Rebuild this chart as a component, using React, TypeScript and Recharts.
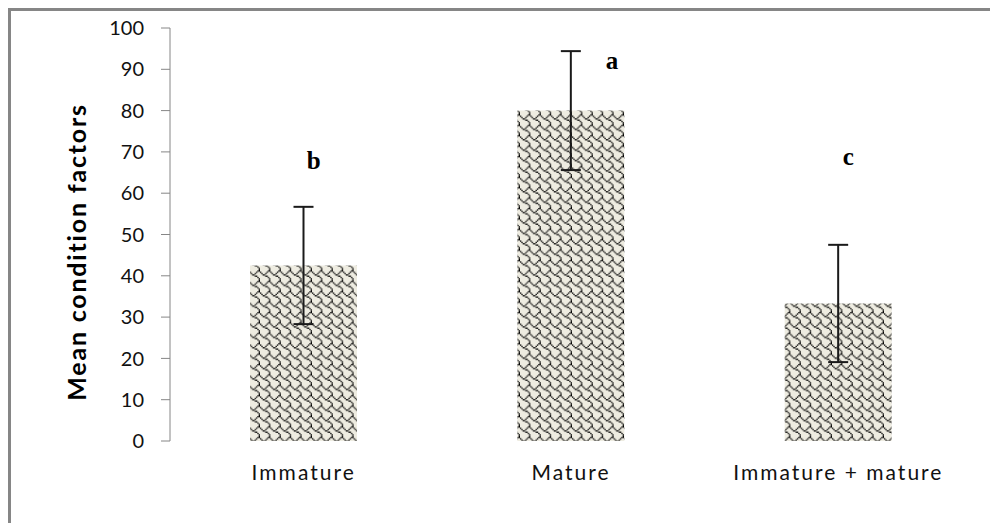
import {
  Bar,
  ComposedChart,
  ErrorBar,
  ReferenceDot,
  XAxis,
  YAxis,
} from "recharts";

const categories = ["Immature", "Mature", "Immature + mature"];
const means = [42.5, 80, 33.3];
const errors = [14.2, 14.4, 14.2];
const letters = ["b", "a", "c"];
// where each significance letter sits, in axis units
const letterLevel = [68, 92.2, 69];
const letterShift = [10, 41, 10];
const yTicks = [0, 10, 20, 30, 40, 50, 60, 70, 80, 90, 100];
const frameTicks = [0, 1, 2, 3];

// Excel "shingle" fill, one byte per 8px row
const shingleRows = [0x03, 0x84, 0x48, 0x30, 0x0c, 0x02, 0x01, 0x01];

const data = categories.map((name, i) => ({
  name,
  mean: means[i],
  err: errors[i],
}));

const axisGray = "#868686";
const px = 1.3;

function ShinglePattern() {
  const cells: JSX.Element[] = [];
  shingleRows.forEach((row, r) => {
    for (let c = 0; c < 8; c++) {
      if (row & (0x80 >> c)) {
        cells.push(
          <rect key={`${r}-${c}`} x={c * px} y={r * px} width={px} height={px} fill="#000" />
        );
      }
    }
  });
  return (
    <pattern id="shingle" patternUnits="userSpaceOnUse" width={8 * px} height={8 * px}>
      <rect width={8 * px} height={8 * px} fill="#eeece1" />
      {cells}
    </pattern>
  );
}

function YLabel() {
  return (
    <text
      x={76}
      y={252}
      transform="rotate(-90 76 252)"
      textAnchor="middle"
      dominantBaseline="central"
      style={{
        fontFamily: "Lato",
        fontWeight: 700,
        fontSize: 25,
        letterSpacing: 1.8,
        fill: "#000",
      }}
    >
      Mean condition factors
    </text>
  );
}

export default function App() {
  return (
    <div
      style={{
        position: "relative",
        width: 990,
        height: 515,
        borderTop: `3px solid ${axisGray}`,
        borderLeft: `3px solid ${axisGray}`,
        boxSizing: "border-box",
      }}
    >
      <div style={{ position: "absolute", left: -11, top: -11 }}>
        <ComposedChart
          width={998}
          height={523}
          data={data}
          margin={{ top: 28, right: 26, bottom: 22, left: 110 }}
        >
          <defs>
            <ShinglePattern />
          </defs>
          <XAxis
            xAxisId="frame"
            type="number"
            domain={[0, 3]}
            ticks={frameTicks}
            allowDataOverflow
            height={0}
            tick={false}
            tickSize={7}
            axisLine={{ stroke: axisGray }}
            tickLine={{ stroke: axisGray }}
          />
          <XAxis
            xAxisId="cat"
            dataKey="name"
            height={60}
            axisLine={false}
            tickLine={false}
            tickSize={0}
            tickMargin={24}
            tick={{ fontFamily: "Lato", fontSize: 21, letterSpacing: 2, fill: "#111" }}
          />
          <YAxis
            domain={[0, 100]}
            ticks={yTicks}
            width={60}
            tickSize={9}
            tickMargin={17}
            axisLine={{ stroke: axisGray }}
            tickLine={{ stroke: axisGray }}
            tick={{ fontFamily: "Lato", fontSize: 20, fill: "#111" }}
            label={<YLabel />}
          />
          <Bar
            xAxisId="cat"
            dataKey="mean"
            fill="url(#shingle)"
            barSize={107}
            isAnimationActive={false}
          >
            <ErrorBar
              dataKey="err"
              direction="y"
              width={10}
              stroke="#1a1a1a"
              strokeWidth={2}
              isAnimationActive={false}
            />
          </Bar>
          {categories.map((c, i) => (
            <ReferenceDot
              key={c}
              xAxisId="cat"
              x={c}
              y={letterLevel[i]}
              r={0}
              shape={(p: { cx: number; cy: number }) => (
                <text
                  x={p.cx + letterShift[i]}
                  y={p.cy}
                  textAnchor="middle"
                  dominantBaseline="central"
                  style={{
                    fontFamily: "Liberation Serif",
                    fontWeight: 700,
                    fontSize: 25,
                    fill: "#000",
                  }}
                >
                  {letters[i]}
                </text>
              )}
            />
          ))}
        </ComposedChart>
      </div>
    </div>
  );
}
